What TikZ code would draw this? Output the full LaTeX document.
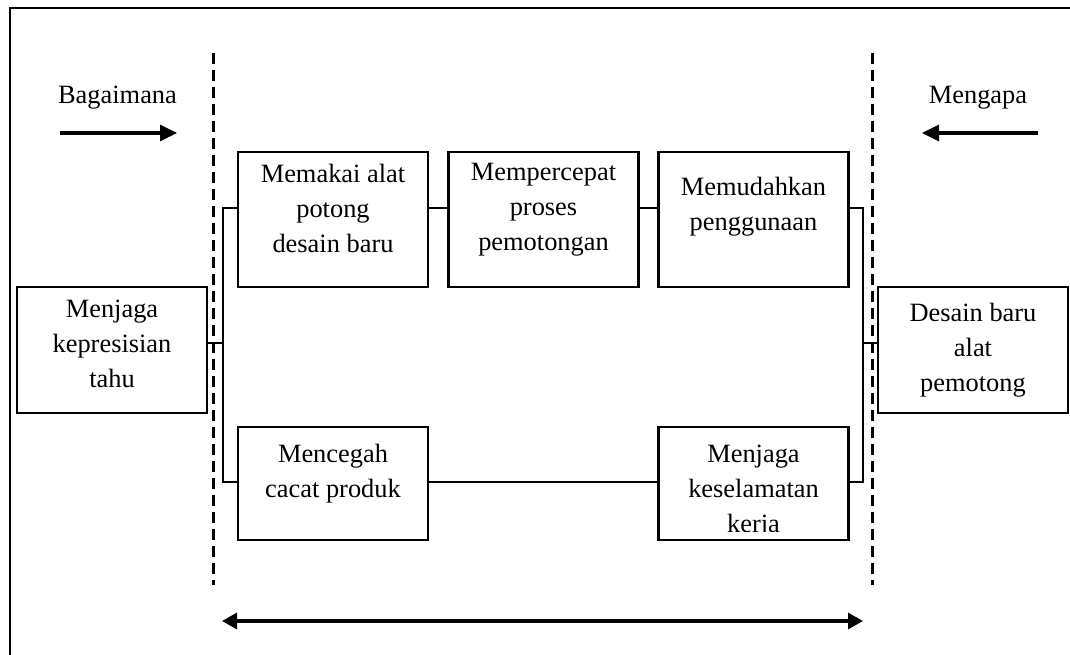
\documentclass[tikz,border=0pt]{standalone}
\usepackage{fontspec}
\setmainfont{Liberation Serif}
\usepackage{tikz}
\usetikzlibrary{arrows.meta}
\tikzstyle{box}=[draw,line width=2.1pt,minimum width=190pt,inner sep=0pt]
\tikzstyle{txt}=[align=center,inner sep=0pt]
\tikzstyle{edge} = [draw,line width=2.1pt,-]
\tikzstyle{guide} = [draw,line width=3pt,dash pattern=on 11pt off 6pt]
\tikzstyle{dir} = [draw,line width=3.2pt,-{Triangle[length=17pt,width=16pt]}]

\begin{document}
\begin{tikzpicture}[x=1pt,y=-1pt,font=\fontsize{26.4}{35}\selectfont]
    \useasboundingbox (0,0) rectangle (1070,655);
    % Frame and the two dashed guides
    \draw[line width=2.1pt] (10,655) -- (10,8) -- (1070,8);
    \coordinate (g1) at (213,53);  \coordinate (g2) at (213,585);
    \coordinate (g3) at (872,53);  \coordinate (g4) at (872,585);
    \path[guide] (g1) -- (g2);
    \path[guide] (g3) -- (g4);
    % First we draw the boxes, then their texts
    \foreach \pos/\name/\h/\dy/\txt in {{(333,219.5)/b1/135/11/{Memakai alat\\potong\\desain baru}},
        {(543.5,219.5)/b2/135/10/{Mempercepat\\proses\\pemotongan}},
        {(753.5,219.5)/b3/135/13/{Memudahkan\\penggunaan}},
        {(112,350)/lbox/126/6/{Menjaga\\kepresisian\\tahu}},
        {(973,350)/rbox/126/0/{Desain baru\\alat\\pemotong}},
        {(333,483.5)/b4/113/10/{Mencegah\\cacat produk}}}
    {
        \node[box,minimum height=\h pt] (\name) at \pos {};
        \node[txt] (\name t) at ([yshift=\dy pt]\name) {\txt};
    }
    \node[box,minimum height=113pt] (b5) at (753.5,483.5) {};
    \begin{scope}
        \clip (b5.north west) rectangle (b5.east |- 0,531);
        \node[txt] (b5t) at ([yshift=-8pt]b5) {Menjaga\\keselamatan\\kerja};
    \end{scope}
    % Junction points of the brackets
    \coordinate (ltop) at (223,208); \coordinate (lmid) at (223,343); \coordinate (lbot) at (223,482);
    \coordinate (rtop) at (863,208); \coordinate (rmid) at (863,343); \coordinate (rbot) at (863,482);
    % Connect boxes with edges
    \path[edge] (lmid -| lbox.east) -- (lmid);
    \path[edge] (ltop -| b1.west) -- (ltop) -- (lbot) -- (lbot -| b4.west);
    \path[edge] (rtop -| b3.east) -- (rtop) -- (rbot) -- (rbot -| b5.east);
    \path[edge] (rmid) -- (rmid -| rbox.west);
    \foreach \source/\dest/\lvl in {b1/b2/ltop, b2/b3/ltop, b4/b5/lbot}
        \path[edge] (\lvl -| \source.east) -- (\lvl -| \dest.west);
    % Direction labels and arrows
    \node (how) at (117.5,98) {Bagaimana};
    \node (why) at (978,98) {Mengapa};
    \coordinate (h1) at (60,133);  \coordinate (h2) at (177,133);
    \coordinate (w1) at (1038,133); \coordinate (w2) at (922,133);
    \coordinate (s1) at (222,621); \coordinate (s2) at (863,621);
    \path[dir] (h1) -- (h2);
    \path[dir] (w1) -- (w2);
    \path[dir,{Triangle[length=15pt,width=16pt]}-{Triangle[length=15pt,width=16pt]}] (s1) -- (s2);
\end{tikzpicture}
\end{document}
